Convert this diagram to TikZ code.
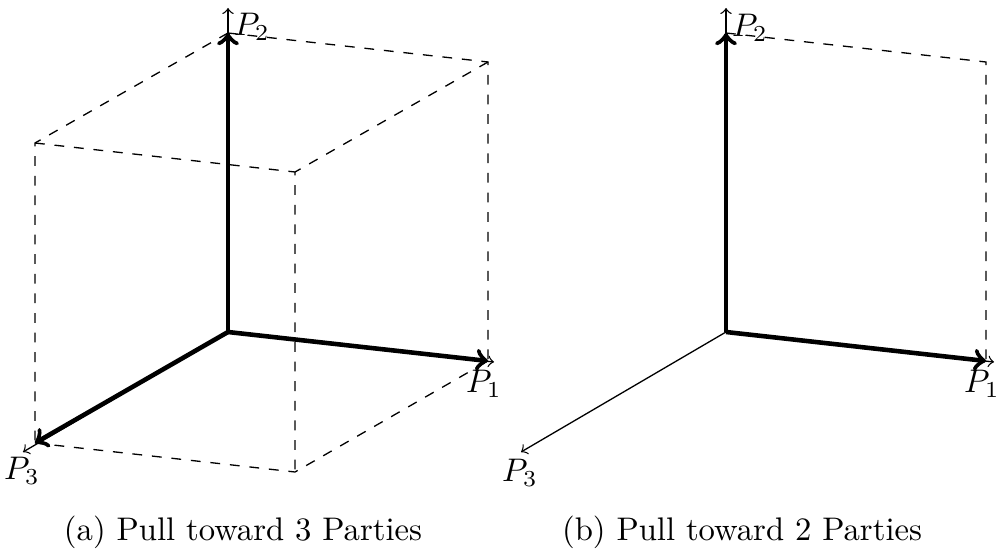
\documentclass[tikz,border=0pt]{standalone}
\begin{document}
\begin{tikzpicture}[x=0.306pt,y=-0.306pt,
  vec/.style={line width=1.4pt,->},
  axis/.style={line width=0.4pt,->},
  guide/.style={dashed,line width=0.4pt},
  lab/.style={inner sep=0pt}]
\useasboundingbox (0,0) rectangle (999,552);
% ---------- (a) ----------
\coordinate (O) at (228,332);
\coordinate (A1) at (488,361);
\coordinate (A2) at (228,33);
\coordinate (A3) at (35,443);
\coordinate (A12) at (488,62);
\coordinate (A23) at (35,143);
\coordinate (A13) at (295,472);
\coordinate (A123) at (295,172);
\coordinate (T1) at (494,362);
\coordinate (T2) at (228,8);
\coordinate (T3) at (23,452);
\draw[guide] (A2) -- (A12) -- (A1);
\draw[guide] (A2) -- (A23) -- (A3);
\draw[guide] (A12) -- (A123) -- (A13);
\draw[guide] (A23) -- (A123);
\draw[guide] (A3) -- (A13) -- (A1);
\draw[axis] (O) -- (T1);
\draw[axis] (O) -- (T2);
\draw[axis] (O) -- (T3);
\draw[vec] (O) -- (A1);
\draw[vec] (O) -- (A2);
\draw[vec] (O) -- (A3);
\node[lab] (L2) at (252,27) {$P_2$};
\node[lab] (L1) at (484,384) {$P_1$};
\node[lab] (L3) at (22,471) {$P_3$};
\node (capA) at (243,532) {(a) Pull toward 3 Parties};
% ---------- (b) ----------
\coordinate (B0) at (726,332);
\coordinate (B1) at (986,361);
\coordinate (B2) at (726,33);
\coordinate (B12) at (986,62);
\coordinate (U1) at (994,362);
\coordinate (U2) at (726,8);
\coordinate (U3) at (521,452);
\draw[guide] (B2) -- (B12) -- (B1);
\draw[axis] (B0) -- (U1);
\draw[axis] (B0) -- (U2);
\draw[axis] (B0) -- (U3);
\draw[vec] (B0) -- (B1);
\draw[vec] (B0) -- (B2);
\node[lab] (M2) at (750,28) {$P_2$};
\node[lab] (M1) at (982,384) {$P_1$};
\node[lab] (M3) at (520,473) {$P_3$};
\node (capB) at (742,532) {(b) Pull toward 2 Parties};
\end{tikzpicture}
\end{document}
